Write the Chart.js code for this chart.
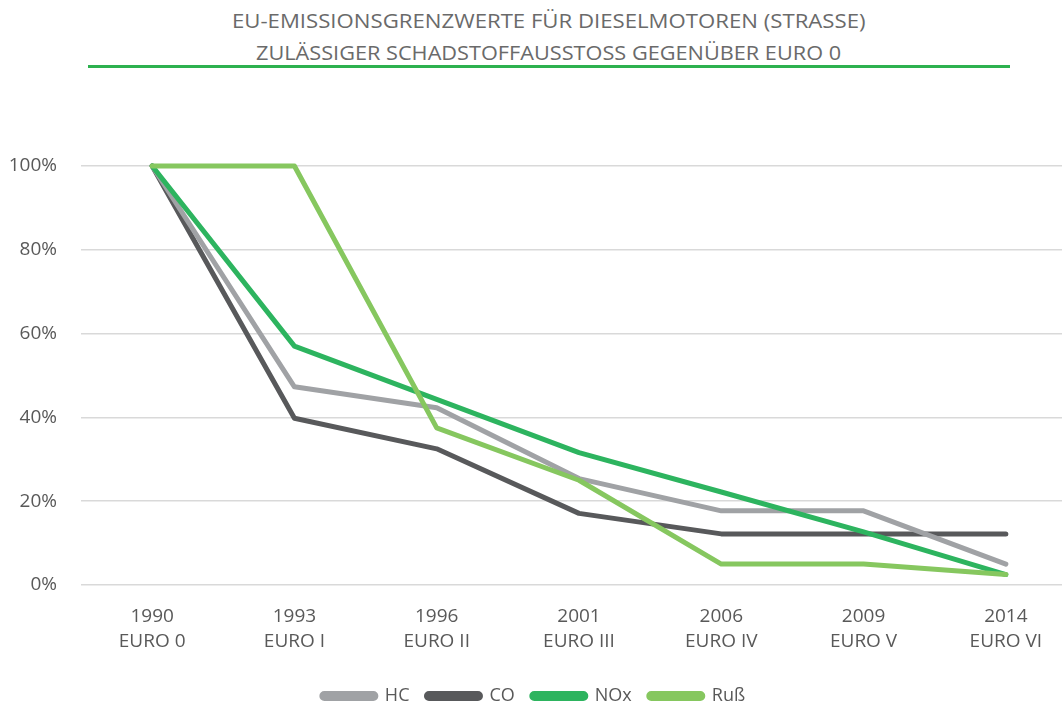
<!DOCTYPE html>
<html>
<head>
<meta charset="utf-8">
<script src="https://cdn.jsdelivr.net/npm/chart.js@4.4.0/dist/chart.umd.min.js"></script>
<style>
  html, body { margin: 0; padding: 0; background: #fff; overflow: hidden; width: 1062px; height: 707px; }
  .title { position: absolute; left: 0; width: 1100px; text-align: center; font-family: "Open Sans", sans-serif; font-size: 20px; color: #6a6a6a; white-space: nowrap; }
  .title span { display: inline-block; transform-origin: center; }
  #rule { position: absolute; left: 88px; top: 65px; width: 922px; height: 3px; background: #2db14f; }
  #wrap { position: absolute; left: -10px; top: 0; width: 1090px; height: 715px; }
</style>
</head>
<body>
<div class="title" id="t1" style="top:7px; left:-1px; width:1100px;"><span>EU-EMISSIONSGRENZWERTE FÜR DIESELMOTOREN (STRASSE)</span></div>
<div class="title" id="t2" style="top:39px; left:-1px; width:1100px;"><span>ZULÄSSIGER SCHADSTOFFAUSSTOSS GEGENÜBER EURO 0</span></div>
<div id="rule"></div>
<div id="wrap"><canvas id="chart"></canvas></div>
<script>
// chart values (percent of Euro 0)
const years = ['1990', '1993', '1996', '2001', '2006', '2009', '2014'];
const norms = ['EURO 0', 'EURO I', 'EURO II', 'EURO III', 'EURO IV', 'EURO V', 'EURO VI'];
const hc = [100, 47.3, 42.3, 25.4, 17.7, 17.7, 5.0];
const co = [100, 39.8, 32.5, 17.1, 12.2, 12.2, 12.2];
const nox = [100, 57.0, 44.3, 31.6, 22.2, 12.7, 2.5];
const russ = [100, 100, 37.5, 25.0, 5.0, 5.0, 2.5];

// squeeze the title lines to the width they have in the picture
[['t1', 633], ['t2', 585]].forEach(([id, w]) => {
    const span = document.querySelector('#' + id + ' span');
    span.style.transform = 'scaleX(' + (w / span.offsetWidth) + ')';
});

const labels = years.map((y, i) => [y, norms[i]]);

function line(label, data, color, order) {
    return {
        label: label,
        data: data,
        borderColor: color,
        backgroundColor: color,
        borderWidth: 5,
        pointRadius: 0,
        tension: 0,
        borderCapStyle: 'round',
        borderJoinStyle: 'round',
        clip: false,
        order: order
    };
}

const textColor = '#595959';

new Chart(document.getElementById('chart'), {
    type: 'line',
    data: {
        labels: labels,
        datasets: [
            line('HC', hc, '#a0a2a5', 3),
            line('CO', co, '#58595b', 4),
            line('NOx', nox, '#2db45f', 2),
            line('Ruß', russ, '#86c75f', 1)
        ]
    },
    options: {
        responsive: true,
        maintainAspectRatio: false,
        animation: false,
        layout: { padding: { top: 166, right: 3, left: 0, bottom: 0 } },
        plugins: {
            title: { display: false },
            tooltip: { enabled: false },
            legend: {
                position: 'bottom',
                labels: {
                    sort: (a, b) => a.datasetIndex - b.datasetIndex,
                    boxWidth: 54,
                    boxHeight: 5,
                    useBorderRadius: true,
                    borderRadius: 2.5,
                    padding: 17,
                    color: textColor,
                    font: { family: 'Open Sans', size: 18 }
                }
            }
        },
        scales: {
            x: {
                offset: true,
                grid: { display: false },
                border: { display: false },
                ticks: {
                    color: textColor,
                    padding: 11,
                    maxRotation: 0,
                    font: { family: 'Open Sans', size: 19, lineHeight: 1.32 }
                },
                afterFit: (scale) => { scale.height = 85; }
            },
            y: {
                min: 0,
                max: 100,
                grid: { color: '#d9d9d9', lineWidth: 1.5, drawTicks: false },
                border: { display: false },
                ticks: {
                    stepSize: 20,
                    padding: 24,
                    color: textColor,
                    font: { family: 'Open Sans', size: 19 },
                    callback: (v) => v + '%'
                },
                afterFit: (scale) => { scale.width = 91; }
            }
        }
    }
});
</script>
</body>
</html>
